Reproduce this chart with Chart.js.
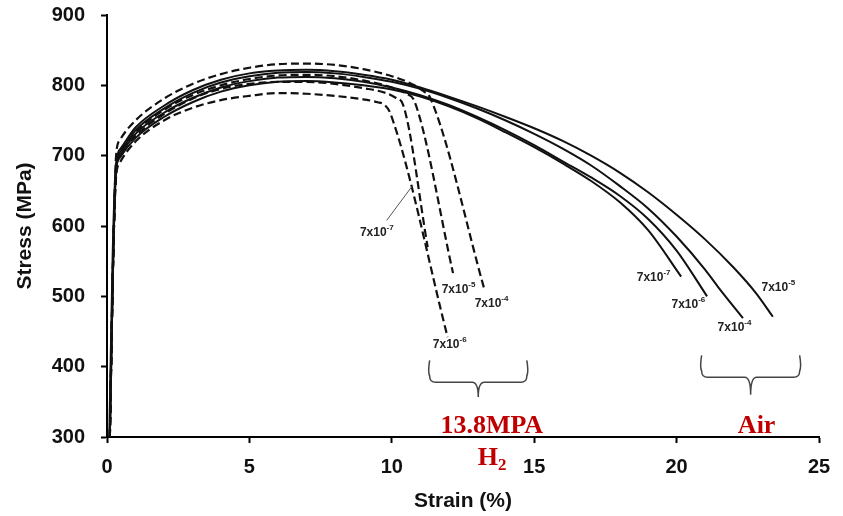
<!DOCTYPE html>
<html>
<head>
<meta charset="utf-8">
<script src="https://cdn.jsdelivr.net/npm/chart.js@4.4.1/dist/chart.umd.min.js"></script>
<style>
  body { margin: 0; background: #fff; }
  canvas { display: block; }
</style>
</head>
<body>
<canvas id="my" width="843" height="516"></canvas>
<script>
// tick labels
const strainTicks = [0, 5, 10, 15, 20, 25];
const stressTicks = [300, 400, 500, 600, 700, 800, 900];

// strain rates (s^-1), used for the little labels
const rateExps = ['-7', '-6', '-5', '-4'];

// tests in air (solid lines)
const airE7Strain = [0.08, 0.2, 0.3, 0.45, 1, 2, 3, 4, 5, 6, 7, 8, 9, 10, 11, 12, 13, 14, 15, 16, 17, 18, 19, 20.16];
const airE7Stress = [300, 560, 675, 697, 725, 755, 776, 791, 800, 805, 806, 804, 800, 794, 784, 770, 753, 733, 712, 689, 664, 634, 594, 528];
const airE6Strain = [0.1, 0.22, 0.32, 0.48, 1, 2, 3, 4, 5, 6, 7, 8, 9, 10, 11, 12, 13, 14, 15, 16, 17, 18, 19, 20, 21.07];
const airE6Stress = [300, 560, 680, 702, 731, 761, 782, 797, 806, 811, 812, 810, 805, 797, 786, 772, 755, 736, 715, 692, 669, 643, 610, 565, 500];
const airE5Strain = [0.1, 0.22, 0.32, 0.48, 1, 2, 3, 4, 5, 6, 7, 8, 9, 10, 11, 12, 13, 14, 15, 16, 17, 18, 19, 20, 21, 22, 22.8, 23.38];
const airE5Stress = [300, 560, 688, 710, 740, 771, 793, 808, 817, 821, 822, 820, 815, 808, 797, 784, 770, 755, 739, 721, 700, 676, 648, 616, 581, 541, 504, 471];
const airE4Strain = [0.1, 0.22, 0.32, 0.48, 1, 2, 3, 4, 5, 6, 7, 8, 9, 10, 11, 12, 13, 14, 15, 16, 17, 18, 19, 20, 21, 21.5, 22.33];
const airE4Stress = [300, 560, 685, 706, 736, 767, 789, 804, 813, 818, 819, 817, 812, 805, 795, 782, 767, 750, 731, 710, 686, 657, 625, 585, 538, 511, 469];

// tests in 13.8 MPa H2 (dashed lines)
const h2E7Strain = [0.1, 0.22, 0.32, 0.45, 1, 2, 3, 4, 5, 6, 7, 8, 9, 9.8, 10.15, 10.4, 11.26];
const h2E7Stress = [300, 560, 678, 700, 728, 759, 781, 795, 802, 805, 805, 802, 796, 789, 782, 772, 570];
const h2E6Strain = [0.1, 0.22, 0.32, 0.45, 1, 2, 3, 4, 5, 6, 7, 8, 9, 9.5, 9.75, 9.95, 11.96];
const h2E6Stress = [300, 560, 670, 690, 720, 750, 768, 779, 785, 789, 788, 785, 780, 776, 772, 760, 442];
const h2E5Strain = [0.1, 0.22, 0.32, 0.45, 1, 2, 3, 4, 5, 6, 7, 8, 9, 10, 10.5, 10.8, 12.15];
const h2E5Stress = [300, 560, 682, 704, 733, 765, 786, 800, 809, 814, 815, 813, 807, 797, 788, 777, 533];
const h2E4Strain = [0.1, 0.22, 0.32, 0.45, 1, 2, 3, 4, 5, 6, 7, 8, 9, 10, 10.7, 11.1, 11.35, 13.25];
const h2E4Stress = [300, 560, 700, 722, 750, 781, 802, 816, 825, 830, 831, 829, 823, 813, 802, 792, 782, 510];

function pts(xs, ys) {
    return xs.map((v, i) => ({ x: v, y: ys[i] }));
}

function curve(label, xs, ys, dashed) {
    return {
        label: label,
        data: pts(xs, ys),
        borderColor: '#111',
        borderWidth: dashed ? 2.2 : 2,
        borderDash: dashed ? [8, 4] : [],
        pointRadius: 0,
        showLine: true,
        fill: false,
        cubicInterpolationMode: 'monotone'
    };
}

// labels, braces and the red notes
const annotate = {
    id: 'annotate',
    afterDatasetsDraw(chart) {
        const { ctx, scales: { x, y } } = chart;
        const px = v => x.getPixelForValue(v);
        const py = v => y.getPixelForValue(v);
        ctx.save();

        function rate(exp, sx, sy) {
            const X = px(sx), Y = py(sy);
            ctx.fillStyle = '#222';
            ctx.textAlign = 'left';
            ctx.textBaseline = 'middle';
            ctx.font = 'bold 12px "Liberation Sans", Arial, sans-serif';
            ctx.fillText('7x10', X, Y);
            const w = ctx.measureText('7x10').width;
            ctx.font = 'bold 8px "Liberation Sans", Arial, sans-serif';
            ctx.fillText(exp, X + w, Y - 5);
        }
        // H2 group
        rate(rateExps[0], 8.88, 590);
        rate(rateExps[2], 11.75, 509);
        rate(rateExps[3], 12.91, 489);
        rate(rateExps[1], 11.44, 431);
        // air group
        rate(rateExps[0], 18.6, 526);
        rate(rateExps[1], 19.82, 488);
        rate(rateExps[3], 21.44, 455);
        rate(rateExps[2], 22.98, 512);

        // pointer to the 7x10-7 H2 curve
        ctx.strokeStyle = '#555';
        ctx.lineWidth = 1;
        ctx.beginPath();
        ctx.moveTo(px(9.82), py(608));
        ctx.lineTo(px(10.74), py(658));
        ctx.stroke();

        function brace(s1, s2, top, bot, tip) {
            const x1 = px(s1), x2 = px(s2), xm = (x1 + x2) / 2;
            const yt = py(top), yb = py(bot), yp = py(tip);
            const r = 6;
            ctx.strokeStyle = '#444';
            ctx.lineWidth = 1.5;
            ctx.beginPath();
            ctx.moveTo(x1, yt);
            ctx.quadraticCurveTo(x1 - 2, (yt + yb) / 2, x1, yb - r);
            ctx.quadraticCurveTo(x1, yb, x1 + r, yb);
            ctx.lineTo(xm - r, yb);
            ctx.quadraticCurveTo(xm, yb, xm, yp);
            ctx.moveTo(xm, yp);
            ctx.quadraticCurveTo(xm, yb, xm + r, yb);
            ctx.lineTo(x2 - r, yb);
            ctx.quadraticCurveTo(x2, yb, x2, yb - r);
            ctx.quadraticCurveTo(x2 + 2, (yt + yb) / 2, x2, yt);
            ctx.stroke();
        }
        brace(11.33, 14.74, 409, 378, 357);
        brace(20.88, 24.32, 416, 385, 360);

        // red notes
        ctx.fillStyle = '#c00000';
        ctx.textBaseline = 'alphabetic';
        ctx.textAlign = 'center';
        ctx.font = 'bold 26px "Liberation Serif", "DejaVu Serif", serif';
        ctx.fillText('13.8MPA', px(13.51), py(306));
        ctx.fillText('Air', px(22.81), py(306));
        ctx.textAlign = 'left';
        ctx.fillText('H', px(13.02), py(260));
        const hw = ctx.measureText('H').width;
        ctx.font = 'bold 17px "Liberation Serif", "DejaVu Serif", serif';
        ctx.fillText('2', px(13.02) + hw, py(253));

        ctx.restore();
    }
};

Chart.defaults.font.family = '"Liberation Sans", Arial, sans-serif';
Chart.defaults.color = '#111';

const ctxLine = document.getElementById('my').getContext('2d');

new Chart(ctxLine, {
    type: 'scatter',
    data: {
        datasets: [
            curve('Air 7x10-7', airE7Strain, airE7Stress, false),
            curve('Air 7x10-6', airE6Strain, airE6Stress, false),
            curve('Air 7x10-5', airE5Strain, airE5Stress, false),
            curve('Air 7x10-4', airE4Strain, airE4Stress, false),
            curve('H2 7x10-7', h2E7Strain, h2E7Stress, true),
            curve('H2 7x10-6', h2E6Strain, h2E6Stress, true),
            curve('H2 7x10-5', h2E5Strain, h2E5Stress, true),
            curve('H2 7x10-4', h2E4Strain, h2E4Stress, true)
        ]
    },
    options: {
        responsive: false,
        animation: false,
        layout: { padding: { top: 15, right: 24, left: 0, bottom: 0 } },
        plugins: {
            legend: { display: false },
            tooltip: { enabled: false }
        },
        scales: {
            x: {
                type: 'linear',
                min: strainTicks[0],
                max: strainTicks[strainTicks.length - 1],
                afterBuildTicks: s => { s.ticks = strainTicks.map(v => ({ value: v })); },
                afterFit: s => { s.height = 79; s.paddingLeft = 0; s.paddingRight = 0; },
                border: { display: true, color: '#000', width: 2 },
                grid: { display: true, drawOnChartArea: false, drawTicks: true, tickLength: 6, tickColor: '#000', tickWidth: 2 },
                ticks: { padding: 12, font: { size: 20, weight: 'bold' }, color: '#111' },
                title: {
                    display: true,
                    text: 'Strain (%)',
                    font: { size: 21, weight: 'bold' },
                    color: '#111',
                    padding: { top: 0, bottom: 2 }
                }
            },
            y: {
                type: 'linear',
                min: stressTicks[0],
                max: stressTicks[stressTicks.length - 1],
                afterBuildTicks: s => { s.ticks = stressTicks.map(v => ({ value: v })); },
                afterFit: s => { s.width = 107; s.paddingTop = 0; s.paddingBottom = 0; },
                border: { display: true, color: '#000', width: 2 },
                grid: { display: true, drawOnChartArea: false, drawTicks: true, tickLength: 6, tickColor: '#000', tickWidth: 2 },
                ticks: { padding: 16, font: { size: 20, weight: 'bold' }, color: '#111' },
                title: {
                    display: true,
                    text: 'Stress (MPa)',
                    font: { size: 21, weight: 'bold' },
                    color: '#111',
                    padding: { top: 13, bottom: 0 }
                }
            }
        }
    },
    plugins: [annotate]
});
</script>
</body>
</html>
